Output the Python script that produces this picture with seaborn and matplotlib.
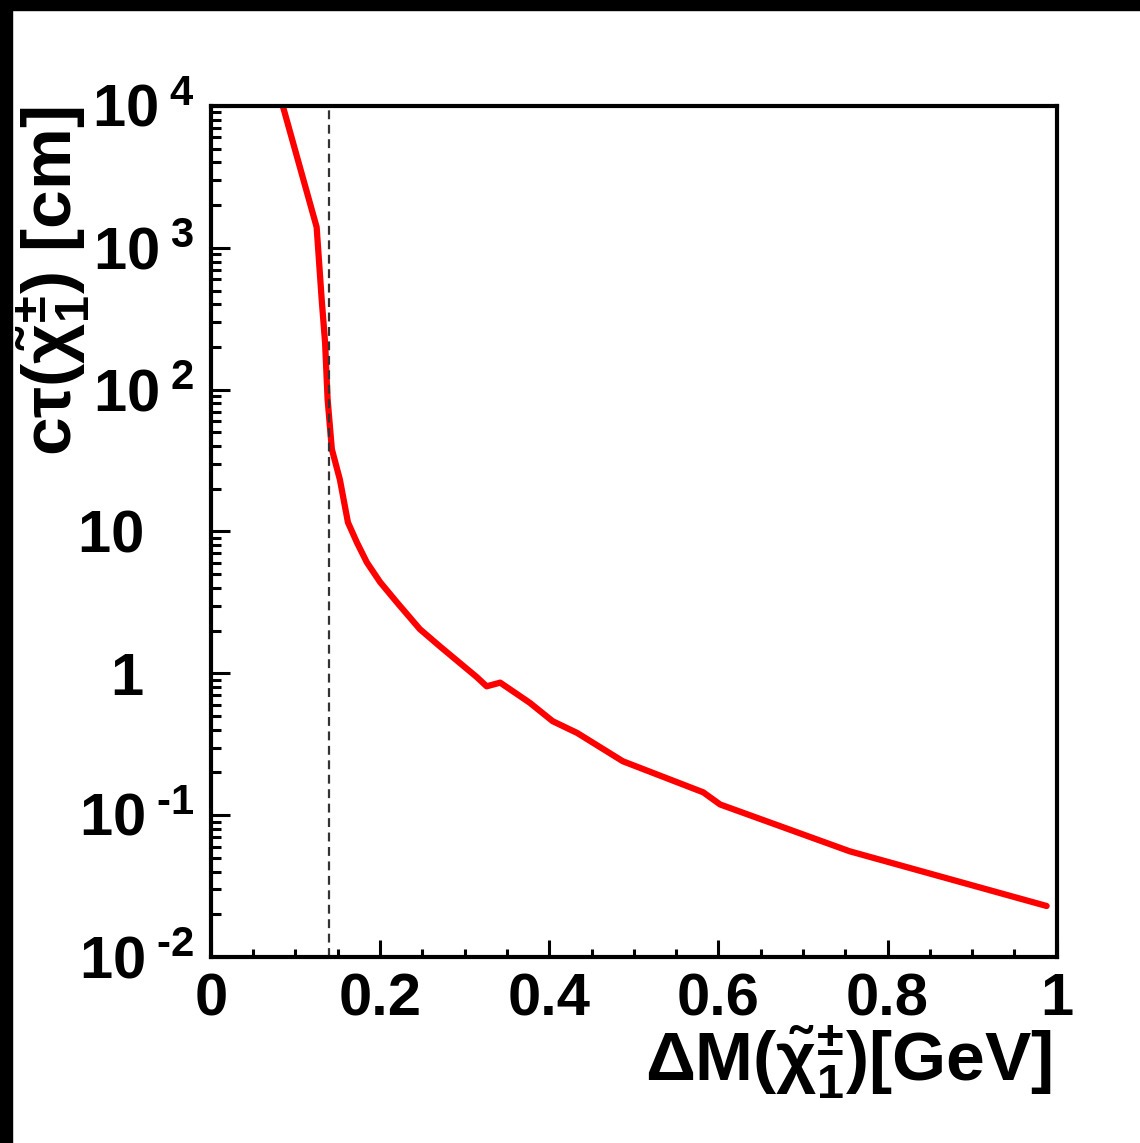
import matplotlib
matplotlib.use("Agg")
import matplotlib.pyplot as plt
import seaborn as sns
import numpy as np
from matplotlib.patches import Rectangle
from matplotlib.ticker import MultipleLocator, LogLocator, FuncFormatter, NullFormatter

# chargino mass splitting [GeV] vs c*tau [cm]
delta_m = [0.085, 0.125, 0.131, 0.135, 0.138, 0.143, 0.1525, 0.162, 0.1726, 0.1844,
           0.200, 0.220, 0.247, 0.2707, 0.3144, 0.326, 0.342, 0.377, 0.404, 0.433,
           0.487, 0.582, 0.602, 0.755, 0.988]
ctau = [10000, 1400, 430, 214, 85, 38, 23.2, 11.6, 8.37, 6.05,
        4.4, 3.16, 2.05, 1.55, 0.94, 0.81, 0.86, 0.62, 0.46, 0.38,
        0.24, 0.145, 0.119, 0.0557, 0.0229]
pion_mass = 0.1396

x_ticks = [0, 0.2, 0.4, 0.6, 0.8, 1]
x_labels = ["0", "0.2", "0.4", "0.6", "0.8", "1"]

sns.set_style("white")
plt.rcParams['font.family'] = ['Liberation Sans', 'DejaVu Sans']
plt.rcParams['font.weight'] = 'bold'
plt.rcParams['mathtext.fontset'] = 'custom'
plt.rcParams['mathtext.rm'] = 'Liberation Sans:bold'
plt.rcParams['mathtext.it'] = 'Liberation Sans:bold'
plt.rcParams['mathtext.bf'] = 'Liberation Sans:bold'
plt.rcParams['mathtext.default'] = 'rm'

fig = plt.figure(figsize=(11.4, 11.43), dpi=100)
ax = fig.add_axes([0.185, 0.1627, 0.742, 0.7446])

sns.lineplot(x=delta_m, y=ctau, ax=ax, color='#ff0000', linewidth=4.5,
             estimator=None, sort=False)
ax.axvline(pion_mass, color='#333333', linewidth=1.6, linestyle=(0, (4, 2.5)))

ax.set_yscale('log')
ax.set_xlim(0, 1)
ax.set_ylim(1e-2, 1e4)

ax.set_xticks(x_ticks)
ax.set_xticklabels(x_labels)
ax.xaxis.set_minor_locator(MultipleLocator(0.05))
ax.yaxis.set_major_locator(LogLocator(base=10, numticks=20))
ax.yaxis.set_minor_locator(LogLocator(base=10, subs=np.arange(2, 10), numticks=20))
ax.yaxis.set_minor_formatter(NullFormatter())


def root_log(v, pos):
    # ROOT-like labels: base "10" with a raised exponent, plain 1 and 10
    e = int(round(np.log10(v)))
    if e == 0:
        return "1\u2007 "
    if e == 1:
        return "10\u2007 "
    exp = str(e).replace("-", "\u2010")
    return r"$10^{\;%s}$" % exp


ax.yaxis.set_major_formatter(FuncFormatter(root_log))

ax.tick_params(axis='both', which='both', direction='in', width=2.2,
               left=True, bottom=True, top=False, right=False,
               labelsize=43, colors='black')
ax.tick_params(axis='y', which='major', length=13.5, pad=12)
ax.tick_params(axis='y', which='minor', length=7)
ax.tick_params(axis='x', which='major', length=12, pad=11)
ax.tick_params(axis='x', which='minor', length=6)

for s in ax.spines.values():
    s.set_linewidth(3)
    s.set_color('black')

ax.set_xlabel(r"$\Delta$M($\tilde{\chi}_{1}^{\pm}$)[GeV]", fontsize=50,
              fontweight='bold', color='black', ha='right', va='top')
ax.xaxis.set_label_coords(0.994, -0.078)
ax.set_ylabel(r"c$\tau$($\tilde{\chi}_{1}^{\pm}$) [cm]", fontsize=50,
              fontweight='bold', color='black', ha='right')
ax.yaxis.set_label_coords(-0.14, 1.0)

# black frame strips along top and left edges of the picture
fig.add_artist(Rectangle((0, 1 - 10 / 1143), 1, 10 / 1143, transform=fig.transFigure,
                         color='black', zorder=10))
fig.add_artist(Rectangle((0, 0), 12 / 1140, 1, transform=fig.transFigure,
                         color='black', zorder=10))

fig.savefig("out.png", dpi=100, facecolor='white')
